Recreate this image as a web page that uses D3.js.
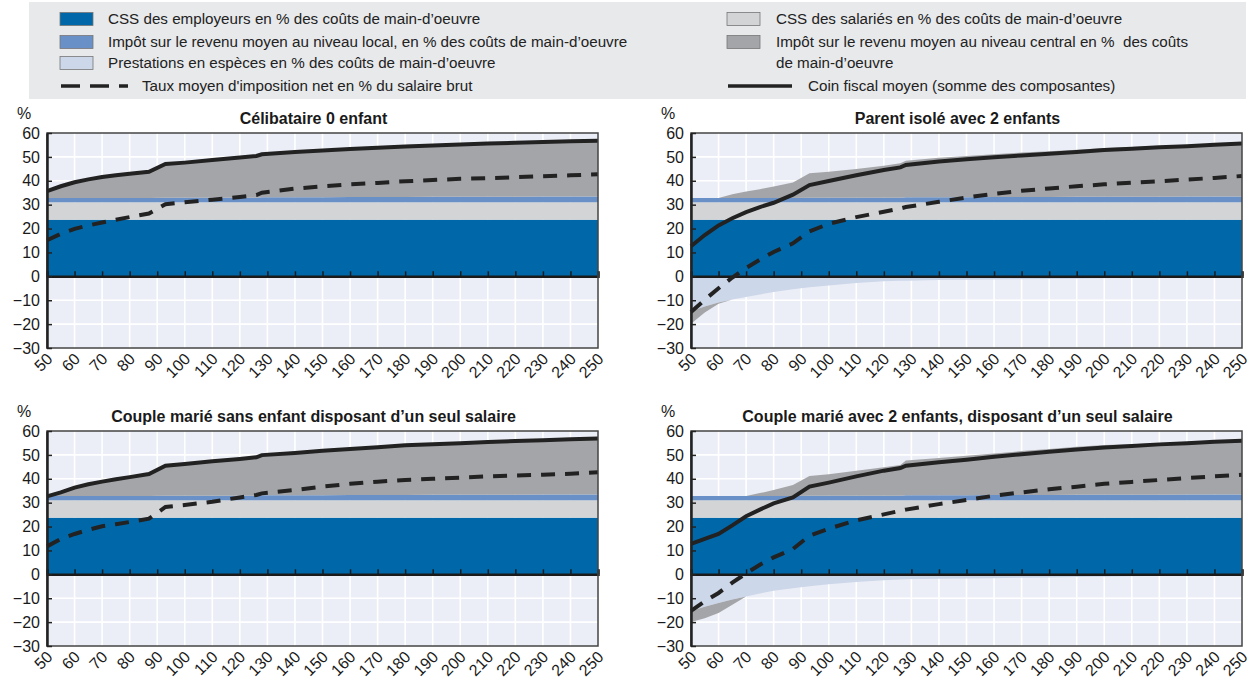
<!DOCTYPE html>
<html>
<head>
<meta charset="utf-8">
<script src="https://cdn.jsdelivr.net/npm/d3@7"></script>
<style>
  body { margin: 0; background: #fff; }
  svg { display: block; font-family: "Liberation Sans", Arial, sans-serif; }
</style>
</head>
<body>
<div id="chart"></div>
<script>
// wage levels, % of average wage
const wageLevels = [50, 55, 60, 65, 70, 75, 80, 87, 93, 100, 110, 120, 126, 128, 140, 150, 160, 170, 180, 190, 200, 210, 220, 230, 240, 250];

// components common to all households
const employerSsc = [23.7, 23.7, 23.7, 23.7, 23.7, 23.7, 23.7, 23.7, 23.7, 23.7, 23.7, 23.7, 23.7, 23.7, 23.7, 23.7, 23.7, 23.7, 23.7, 23.7, 23.7, 23.7, 23.7, 23.7, 23.7, 23.7];
const employeeSsc = [7.3, 7.3, 7.3, 7.3, 7.3, 7.3, 7.3, 7.3, 7.3, 7.3, 7.3, 7.3, 7.3, 7.3, 7.3, 7.3, 7.3, 7.3, 7.3, 7.3, 7.3, 7.3, 7.3, 7.3, 7.3, 7.3];
const localTax = [1.8, 1.8, 1.8, 1.8, 1.8, 1.8, 1.8, 1.8, 1.9, 1.9, 1.9, 1.9, 1.9, 2.1, 2.1, 2.1, 2.2, 2.2, 2.2, 2.3, 2.3, 2.3, 2.3, 2.4, 2.4, 2.4];
const noBenefits = [0, 0, 0, 0, 0, 0, 0, 0, 0, 0, 0, 0, 0, 0, 0, 0, 0, 0, 0, 0, 0, 0, 0, 0, 0, 0];

// Célibataire 0 enfant
const centralSingle = [2.9, 4.9, 6.6, 7.8, 8.8, 9.5, 10.1, 11.0, 14.1, 14.7, 15.8, 16.8, 17.5, 18.0, 18.9, 19.6, 20.1, 20.6, 21.1, 21.5, 21.9, 22.3, 22.6, 22.8, 23.1, 23.4];
const wedgeSingle = [35.7, 37.7, 39.4, 40.6, 41.6, 42.3, 42.9, 43.8, 47.0, 47.6, 48.7, 49.7, 50.4, 51.1, 52.0, 52.7, 53.3, 53.8, 54.3, 54.8, 55.2, 55.6, 55.9, 56.2, 56.5, 56.8];
const netSingle = [15.1, 17.8, 19.9, 21.3, 22.5, 23.7, 24.8, 26.3, 30.2, 31.0, 32.1, 33.2, 34.0, 35.0, 36.7, 37.7, 38.5, 39.1, 39.8, 40.3, 40.8, 41.1, 41.5, 41.9, 42.3, 42.7];

// Parent isolé avec 2 enfants
const centralParent = [-5.2, -2.5, -0.5, 1.6, 2.7, 3.7, 4.8, 6.5, 10.2, 10.9, 12.0, 13.4, 14.4, 15.3, 16.5, 17.3, 17.9, 18.6, 19.2, 19.7, 20.4, 20.8, 21.2, 21.4, 21.7, 22.2];
const benefitsParent = [-14.6, -12.6, -11.0, -9.7, -8.6, -7.6, -6.6, -5.4, -4.6, -3.8, -2.8, -2.1, -1.9, -1.8, -1.5, -1.4, -1.3, -1.2, -1.1, -1.0, -0.8, -0.7, -0.5, -0.3, 0, 0];
const wedgeParent = [12.6, 17.3, 21.3, 24.3, 26.9, 29.0, 30.8, 34.2, 38.2, 39.9, 42.3, 44.5, 45.6, 46.6, 48.1, 49.0, 49.8, 50.6, 51.3, 52.0, 52.9, 53.4, 54.0, 54.5, 55.1, 55.6];
const netParent = [-14.9, -9.8, -5.0, -0.5, 3.5, 7.0, 10.2, 13.8, 18.8, 22.0, 24.8, 27.0, 28.4, 29.0, 31.2, 33.0, 34.5, 35.8, 36.8, 37.7, 38.5, 39.2, 39.8, 40.5, 41.2, 42.0];

// Couple marié sans enfant, un seul salaire
const centralCouple = [0.0, 1.5, 3.5, 4.9, 6.0, 7.0, 7.9, 9.2, 12.6, 13.3, 14.4, 15.4, 16.1, 16.8, 17.7, 18.6, 19.3, 20.0, 20.8, 21.2, 21.6, 22.1, 22.5, 22.7, 23.1, 23.5];
const wedgeCouple = [32.6, 34.3, 36.3, 37.7, 38.8, 39.8, 40.7, 42.0, 45.5, 46.2, 47.3, 48.3, 49.0, 49.9, 50.8, 51.7, 52.5, 53.2, 54.0, 54.5, 54.9, 55.4, 55.8, 56.1, 56.5, 56.9];
const netCouple = [11.7, 14.8, 16.9, 18.6, 20.1, 21.0, 21.9, 23.3, 28.2, 29.0, 30.4, 32.2, 33.2, 33.9, 35.3, 36.7, 37.9, 38.8, 39.5, 40.0, 40.5, 41.0, 41.4, 41.7, 42.1, 42.7];

// Couple marié avec 2 enfants, un seul salaire
const centralCoupleKids = [-4.7, -4.8, -4.2, -2.2, 0.0, 1.2, 2.5, 4.6, 8.3, 9.0, 10.5, 11.9, 12.9, 14.6, 15.6, 16.5, 17.4, 18.4, 19.3, 20.1, 20.8, 21.2, 21.7, 21.9, 22.3, 22.5];
const benefitsCoupleKids = [-15.3, -13.6, -12.0, -10.5, -9.3, -8.0, -6.9, -5.8, -5.0, -4.2, -3.2, -2.5, -2.2, -2.1, -1.8, -1.7, -1.6, -1.4, -1.3, -1.1, -1.0, -0.8, -0.6, -0.4, -0.2, 0];
const wedgeCoupleKids = [12.7, 14.8, 16.9, 20.5, 24.3, 27.1, 29.7, 32.2, 36.7, 38.4, 41.0, 43.4, 44.5, 45.5, 46.9, 48.0, 49.2, 50.3, 51.3, 52.3, 53.1, 53.7, 54.4, 54.9, 55.5, 55.9];
const netCoupleKids = [-15.3, -11.3, -7.8, -3.5, 0.4, 4.0, 7.1, 10.6, 16.2, 19.1, 22.6, 25.1, 26.6, 27.1, 29.4, 31.1, 32.9, 34.3, 35.6, 36.7, 37.9, 38.7, 39.5, 40.3, 41.0, 41.7];

const yTicks = [-30, -20, -10, 0, 10, 20, 30, 40, 50, 60];
const xTicks = d3.range(50, 251, 10);

const colors = {
  employer: "#0068a9",
  employee: "#d3d4d6",
  local: "#6991c7",
  central: "#a4a5a9",
  benefits: "#cdd7ea"
};

const legendFont = 15.2;

const svg = d3.select("#chart").append("svg")
  .attr("width", 1252)
  .attr("height", 678);

// ---- legend
svg.append("rect")
  .attr("x", 29).attr("y", 2)
  .attr("width", 1217).attr("height", 97)
  .attr("fill", "#e8e9eb");

const legendLeft = [
  { label: "CSS des employeurs en % des coûts de main-d’oeuvre", color: colors.employer, y: 19 },
  { label: "Impôt sur le revenu moyen au niveau local, en % des coûts de main-d’oeuvre", color: colors.local, y: 42 },
  { label: "Prestations en espèces en % des coûts de main-d’oeuvre", color: colors.benefits, y: 63 }
];
const legendRight = [
  { label: "CSS des salariés en % des coûts de main-d’oeuvre", color: colors.employee, y: 19 },
  { label: "Impôt sur le revenu moyen au niveau central en %  des coûts", color: colors.central, y: 42 }
];

function swatches(items, x0, tx) {
  items.forEach(function (d) {
    svg.append("rect")
      .attr("x", x0).attr("y", d.y - 6.5)
      .attr("width", 33).attr("height", 13)
      .attr("fill", d.color)
      .attr("stroke", "#777").attr("stroke-width", 0.8);
    svg.append("text")
      .attr("x", tx).attr("y", d.y + 5)
      .attr("font-size", legendFont).attr("fill", "#222")
      .style("white-space", "pre")
      .text(d.label);
  });
}
swatches(legendLeft, 60, 108);
swatches(legendRight, 727, 776);

svg.append("text")
  .attr("x", 776).attr("y", 68)
  .attr("font-size", legendFont).attr("fill", "#222")
  .text("de main-d’oeuvre");

svg.append("line")
  .attr("x1", 61).attr("x2", 128).attr("y1", 86).attr("y2", 86)
  .attr("stroke", "#222").attr("stroke-width", 3.5)
  .attr("stroke-dasharray", "19,10");
svg.append("text")
  .attr("x", 142).attr("y", 91)
  .attr("font-size", legendFont).attr("fill", "#222")
  .text("Taux moyen d'imposition net en % du salaire brut");

svg.append("line")
  .attr("x1", 728).attr("x2", 792).attr("y1", 86).attr("y2", 86)
  .attr("stroke", "#222").attr("stroke-width", 3.5);
svg.append("text")
  .attr("x", 808).attr("y", 91)
  .attr("font-size", legendFont).attr("fill", "#222")
  .text("Coin fiscal moyen (somme des composantes)");

// ---- panels
const plotW = 551, plotH = 215;

const panels = [
  { title: "Célibataire 0 enfant", left: 47, top: 133, central: centralSingle, benefits: noBenefits, wedge: wedgeSingle, net: netSingle },
  { title: "Parent isolé avec 2 enfants", left: 691, top: 133, central: centralParent, benefits: benefitsParent, wedge: wedgeParent, net: netParent },
  { title: "Couple marié sans enfant disposant d’un seul salaire", left: 47, top: 431, central: centralCouple, benefits: noBenefits, wedge: wedgeCouple, net: netCouple },
  { title: "Couple marié avec 2 enfants, disposant d’un seul salaire", left: 691, top: 431, central: centralCoupleKids, benefits: benefitsCoupleKids, wedge: wedgeCoupleKids, net: netCoupleKids }
];

const x = d3.scaleLinear().domain([50, 250]).range([0, plotW]);
const y = d3.scaleLinear().domain([-30, 60]).range([plotH, 0]);

panels.forEach(function (p) {
  const g = svg.append("g").attr("transform", "translate(" + p.left + "," + p.top + ")");

  const rows = wageLevels.map(function (w, i) {
    return {
      wage: w,
      employer: employerSsc[i],
      employee: employeeSsc[i],
      local: localTax[i],
      centralPos: Math.max(p.central[i], 0),
      benefits: p.benefits[i],
      centralNeg: Math.min(p.central[i], 0)
    };
  });

  const posStack = d3.stack().keys(["employer", "employee", "local", "centralPos"])(rows);
  const negStack = d3.stack().keys(["benefits", "centralNeg"])(rows);
  const fillOf = { employer: colors.employer, employee: colors.employee, local: colors.local, centralPos: colors.central, benefits: colors.benefits, centralNeg: colors.central };

  // background + grid
  g.append("rect").attr("width", plotW).attr("height", plotH).attr("fill", "#ebeef6");
  g.append("g").selectAll("line").data(xTicks.slice(1, -1)).enter().append("line")
    .attr("x1", function (d) { return x(d); }).attr("x2", function (d) { return x(d); })
    .attr("y1", 0).attr("y2", plotH)
    .attr("stroke", "#fff").attr("stroke-width", 1.6);
  g.append("g").selectAll("line").data(yTicks.slice(1, -1)).enter().append("line")
    .attr("x1", 0).attr("x2", plotW)
    .attr("y1", function (d) { return y(d); }).attr("y2", function (d) { return y(d); })
    .attr("stroke", "#fff").attr("stroke-width", 1.6);

  const area = d3.area()
    .x(function (d) { return x(d.data.wage); })
    .y0(function (d) { return y(d[0]); })
    .y1(function (d) { return y(d[1]); });

  g.selectAll(".pos").data(posStack).enter().append("path")
    .attr("class", "pos")
    .attr("d", area)
    .attr("fill", function (s) { return fillOf[s.key]; });
  g.selectAll(".neg").data(negStack).enter().append("path")
    .attr("class", "neg")
    .attr("d", area)
    .attr("fill", function (s) { return fillOf[s.key]; });

  // zero line with ticks pointing up
  g.append("g")
    .attr("transform", "translate(0," + y(0) + ")")
    .call(d3.axisTop(x).tickValues(xTicks).tickSize(5).tickFormat(""))
    .call(function (a) {
      a.select(".domain").attr("stroke", "#1a1a1a").attr("stroke-width", 2.5);
      a.selectAll(".tick line").attr("stroke", "#1a1a1a").attr("stroke-width", 1.5);
    });

  // lines
  const line = d3.line()
    .x(function (d, i) { return x(wageLevels[i]); })
    .y(function (d) { return y(d); });

  g.append("path").datum(p.net)
    .attr("d", line)
    .attr("fill", "none").attr("stroke", "#222")
    .attr("stroke-width", 4).attr("stroke-dasharray", "14,10");
  g.append("path").datum(p.wedge)
    .attr("d", line)
    .attr("fill", "none").attr("stroke", "#222")
    .attr("stroke-width", 4);

  // frame
  g.append("rect").attr("width", plotW).attr("height", plotH)
    .attr("fill", "none").attr("stroke", "#444").attr("stroke-width", 1.5);

  // y axis
  g.append("g")
    .call(d3.axisLeft(y).tickValues(yTicks).tickSizeInner(-5).tickSizeOuter(0).tickPadding(7))
    .call(function (a) {
      a.select(".domain").attr("stroke", "#222").attr("stroke-width", 2.5);
      a.selectAll(".tick line").attr("stroke", "#222").attr("stroke-width", 1.5);
      a.selectAll("text").attr("font-size", 16).attr("fill", "#1a1a1a").attr("font-family", null);
    });

  // x labels, rotated
  g.append("g")
    .attr("transform", "translate(0," + plotH + ")")
    .call(d3.axisBottom(x).tickValues(xTicks).tickSize(0).tickFormat(d3.format("d")))
    .call(function (a) {
      a.select(".domain").remove();
      a.selectAll("text")
        .attr("font-size", 16).attr("fill", "#1a1a1a").attr("font-family", null)
        .attr("y", null).attr("dy", null)
        .attr("text-anchor", "end")
        .attr("transform", "translate(6,12) rotate(-45)");
    });

  // % label and title
  g.append("text")
    .attr("x", -30).attr("y", -14)
    .attr("font-size", 16).attr("fill", "#1a1a1a")
    .text("%");
  g.append("text")
    .attr("x", plotW / 2 - 9).attr("y", -9)
    .attr("text-anchor", "middle")
    .attr("font-size", 16).attr("font-weight", "bold").attr("fill", "#1a1a1a")
    .text(p.title);
});
</script>
</body>
</html>
